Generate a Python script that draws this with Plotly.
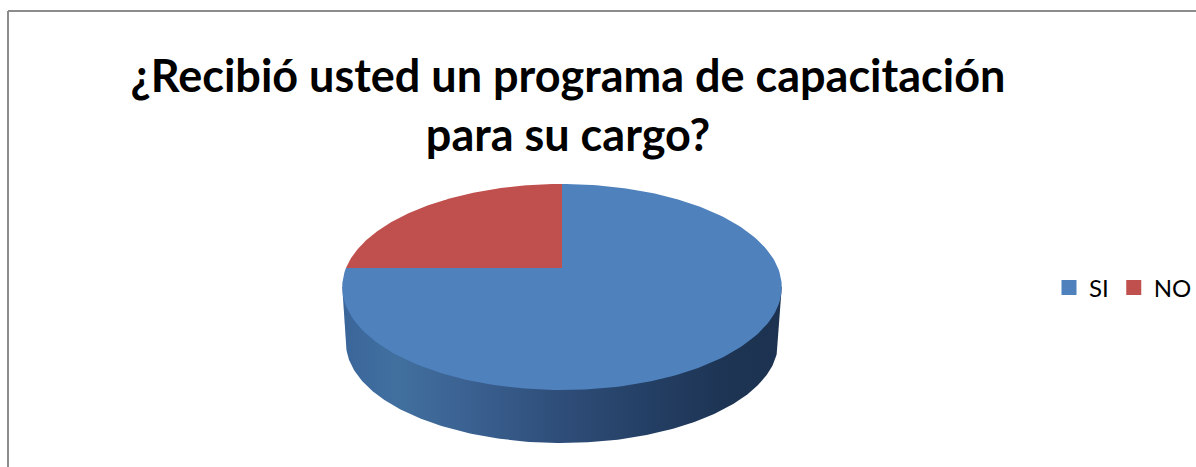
import numpy as np
import plotly.graph_objects as go

categories = ["SI", "NO"]
values = [75, 25]
colors = ["#4F81BD", "#C0504D"]
title_text = "¿Recibió usted un programa de capacitación<br>para su cargo?"

# Projection of the pie disc on the page (tilted view of a unit circle)
CX, APEX_Y, K, A, C = 562.0, 268.0, 216.0, -50.06, 0.1845
DEPTH_CY, DEPTH_RX, DEPTH_RY = 343.0, 216.0, 100.0


def project(theta):
    """theta: clockwise angle from 12 o'clock, radians."""
    u, v = np.sin(theta), np.cos(theta)
    w = C * v + 1
    return CX + K * u / w, (A * v + APEX_Y) / w


def wedge(start, stop):
    th = np.linspace(start, stop, 200)
    x, y = project(th)
    return np.r_[CX, x, CX], np.r_[APEX_Y, y, APEX_Y]


fig = go.Figure()

# side wall: extreme points of the top disc, then the lower rim
th_all = np.linspace(0, 2 * np.pi, 721)
tx, ty = project(th_all)
i_r, i_l = int(np.argmax(tx)), int(np.argmin(tx))
phi = np.linspace(0, np.pi, 200)
bx = CX + DEPTH_RX * np.cos(phi)
by = DEPTH_CY + DEPTH_RY * np.sin(phi)
side_x = np.r_[tx[i_r], bx, tx[i_l], tx[i_l]]
side_y = np.r_[ty[i_r], by, ty[i_l], ty[i_l]]
fig.add_trace(go.Scatter(
    x=side_x, y=side_y, mode="lines", line=dict(width=0), fill="toself",
    fillgradient=dict(type="horizontal", colorscale=[
        [0.0, "#3A659A"], [0.12, "#41709F"], [0.3, "#3A6090"], [0.5, "#2E4D78"],
        [0.7, "#243F64"], [0.88, "#1D3453"], [1.0, "#1C3250"]]),
    showlegend=False, hoverinfo="skip"))

# top slices, starting at 12 o'clock, clockwise
fractions = np.array(values, dtype=float) / sum(values)
edges = np.r_[0, np.cumsum(fractions)] * 2 * np.pi
for i, name in enumerate(categories):
    x, y = wedge(edges[i], edges[i + 1])
    fig.add_trace(go.Scatter(
        x=x, y=y, mode="lines", line=dict(width=0), fill="toself",
        fillcolor=colors[i], name=name, showlegend=False, legendgroup=name,
        hoverinfo="name"))
    fig.add_trace(go.Scatter(
        x=[None], y=[None], mode="markers", name=name, legendgroup=name,
        marker=dict(symbol="square", size=15, color=colors[i])))

fig.update_layout(
    width=1196, height=467,
    margin=dict(l=0, r=0, t=0, b=0, autoexpand=False),
    paper_bgcolor="white", plot_bgcolor="white",
    xaxis=dict(range=[0, 1196], visible=False, fixedrange=True),
    yaxis=dict(range=[467, 0], visible=False, fixedrange=True),
    title=dict(text=title_text, x=568 / 1196, xanchor="center", y=1 - 92 / 467,
               yanchor="middle",
               font=dict(family="Lato", size=45, color="black", weight="bold")),
    legend=dict(orientation="h", x=1049 / 1196, xanchor="left", y=1 - 288 / 467,
                yanchor="middle", font=dict(family="Lato", size=24, color="black"),
                itemwidth=30, bgcolor="rgba(0,0,0,0)"),
    shapes=[
        dict(type="line", xref="paper", yref="paper", x0=8 / 1196, x1=1, y0=1 - 11 / 467,
             y1=1 - 11 / 467, line=dict(color="#8C8C8C", width=2)),
        dict(type="line", xref="paper", yref="paper", x0=8 / 1196, x1=8 / 1196,
             y0=0, y1=1 - 11 / 467, line=dict(color="#8C8C8C", width=2)),
    ],
)
fig.write_html("out.html", config=dict(displayModeBar=False),
               post_script="document.body.style.margin='0';document.documentElement.style.overflow='hidden';")
